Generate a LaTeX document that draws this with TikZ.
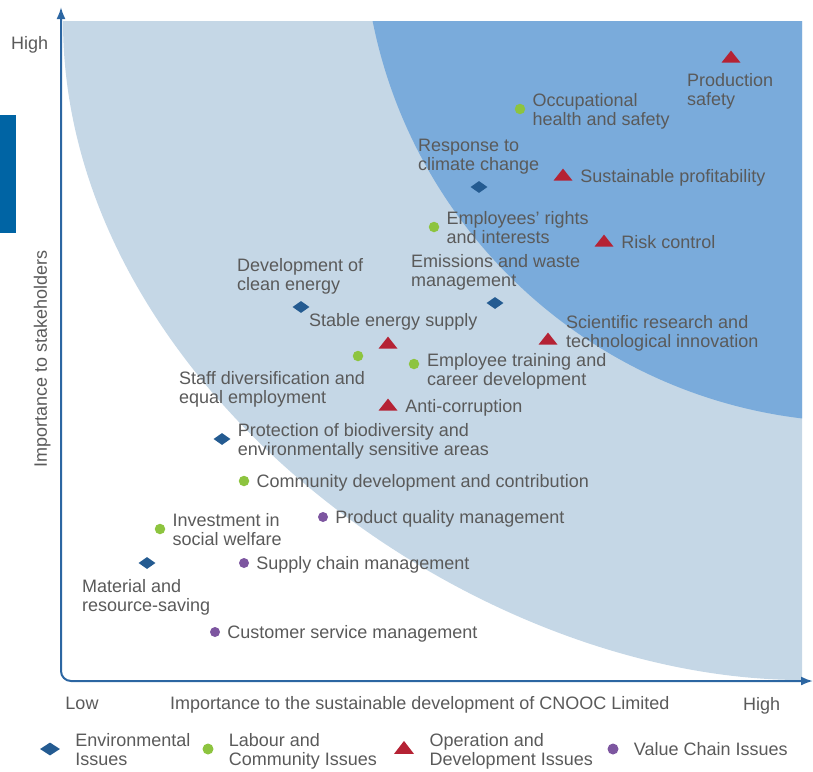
\documentclass[tikz,border=0pt]{standalone}
\usepackage{fontspec}
\setmainfont{Liberation Sans}
\usetikzlibrary{positioning,shapes.geometric,arrows.meta}

\definecolor{paleblue}{HTML}{C5D7E6}
\definecolor{deepblue}{HTML}{7AABDB}
\definecolor{axisblue}{HTML}{2C66A2}
\definecolor{envblue}{HTML}{245B91}
\definecolor{labgreen}{HTML}{8DC43F}
\definecolor{opred}{HTML}{B52234}
\definecolor{chainpurple}{HTML}{7D56A0}
\definecolor{txtgray}{HTML}{5A5A5A}
\definecolor{tabblue}{HTML}{0064A4}

\tikzset{
  envmark/.style = {diamond, fill=envblue, inner sep=0pt, minimum width=17pt, minimum height=12pt},
  labmark/.style = {circle, fill=labgreen, inner sep=0pt, minimum size=10.5pt},
  opmark/.style = {isosceles triangle, shape border rotate=90, isosceles triangle stretches,
                   fill=opred, inner sep=0pt, minimum width=19pt, minimum height=12pt},
  valmark/.style = {circle, fill=chainpurple, inner sep=0pt, minimum size=10pt},
  issue/.style = {font=\fontsize{18}{19}\selectfont, text=txtgray, align=left, inner sep=0pt,
                  anchor=west, yshift=-3pt, execute at begin node=\strut, execute at end node=\strut},
  axisline/.style = {draw=axisblue, line width=2pt, rounded corners=10pt,
                     arrows={Latex[length=12pt,width=9pt]-Latex[length=12pt,width=9pt]}}
}

\begin{document}
\begin{tikzpicture}[x=1pt, y=-1pt]
  \useasboundingbox (0,0) rectangle (813,771);

  % zones
  \fill[paleblue] (63,21) -| (802,680) .. controls (469.5,680) and (63,383.5) .. cycle;
  \begin{scope}
    \clip (63,21) rectangle (802,680);
    \fill[deepblue] (862,-77) circle[radius=499];
  \end{scope}
  \fill[tabblue] (0,115) rectangle (16,233);

  % axes
  \coordinate (ytip) at (61,7);
  \coordinate (xtip) at (813,681);
  \draw[axisline] (ytip) |- (xtip);
  \node[issue] (yhigh) at (11,43) {High};
  \node[issue, anchor=center, rotate=90] (ytitle) at (43,356) {Importance to stakeholders};
  \node[issue, anchor=center] (xlow) at (82,703) {Low};
  \node[issue] (xtitle) at (170,703) {Importance to the sustainable development of CNOOC Limited};
  \node[issue] (xhigh) at (743,704) {High};

  % environmental issues
  \node[envmark] (e1) at (479,187) {};
  \node[envmark] (e2) at (495,303) {};
  \node[envmark] (e3) at (301,307) {};
  \node[envmark] (e4) at (222,439) {};
  \node[envmark] (e5) at (147,563) {};
  \node[issue] (le1) at (418,154.5) {Response to\\climate change};
  \node[issue] (le2) at (411,270) {Emissions and waste\\management};
  \node[issue] (le3) at (237,274.5) {Development of\\clean energy};
  \node[issue, right=7pt of e4] (le4) {Protection of biodiversity and\\environmentally sensitive areas};
  \node[issue] (le5) at (82,595.5) {Material and\\resource-saving};

  % labour and community issues
  \node[labmark] (g1) at (520,109) {};
  \node[labmark] (g2) at (434,227) {};
  \node[labmark] (g3) at (358,356) {};
  \node[labmark] (g4) at (414,364) {};
  \node[labmark] (g5) at (244,481) {};
  \node[labmark] (g6) at (160,529) {};
  \node[issue, right=7pt of g1] (lg1) {Occupational\\health and safety};
  \node[issue, right=7pt of g2] (lg2) {Employees’ rights\\and interests};
  \node[issue] (lg3) at (179,387.5) {Staff diversification and\\equal employment};
  \node[issue] (lg4) at (427,369) {Employee training and\\career development};
  \node[issue, right=7pt of g5] (lg5) {Community development and contribution};
  \node[issue, right=7pt of g6] (lg6) {Investment in\\social welfare};

  % operation and development issues
  \node[opmark] (t1) at (731,58) {};
  \node[opmark] (t2) at (563,176) {};
  \node[opmark] (t3) at (604,242) {};
  \node[opmark] (t4) at (548,340) {};
  \node[opmark] (t5) at (388,344) {};
  \node[opmark] (t6) at (388,406) {};
  \node[issue] (lt1) at (687,89.5) {Production\\safety};
  \node[issue, right=11pt of t2] (lt2) {Sustainable profitability};
  \node[issue, right=11pt of t3] (lt3) {Risk control};
  \node[issue] (lt4) at (566,331.5) {Scientific research and\\technological innovation};
  \node[issue] (lt5) at (309,320) {Stable energy supply};
  \node[issue, right=11pt of t6] (lt6) {Anti-corruption};

  % value chain issues
  \node[valmark] (p1) at (323,517) {};
  \node[valmark] (p2) at (244,563) {};
  \node[valmark] (p3) at (215,632) {};
  \node[issue, right=7pt of p1] (lp1) {Product quality management};
  \node[issue, right=7pt of p2] (lp2) {Supply chain management};
  \node[issue, right=7pt of p3] (lp3) {Customer service management};

  % legend
  \node[envmark, minimum width=20pt, minimum height=13pt] (k1) at (50,749) {};
  \node[labmark, minimum size=11pt] (k2) at (208,749) {};
  \node[opmark, minimum width=20pt, minimum height=13pt] (k3) at (404,749) {};
  \node[valmark, minimum size=11pt] (k4) at (613,749) {};
  \node[issue, right=15pt of k1] (lk1) {Environmental\\Issues};
  \node[issue, right=15pt of k2] (lk2) {Labour and\\Community Issues};
  \node[issue, right=19pt of k3] (lk3) {Operation and\\Development Issues};
  \node[issue, right=15pt of k4] (lk4) {Value Chain Issues};
\end{tikzpicture}
\end{document}
